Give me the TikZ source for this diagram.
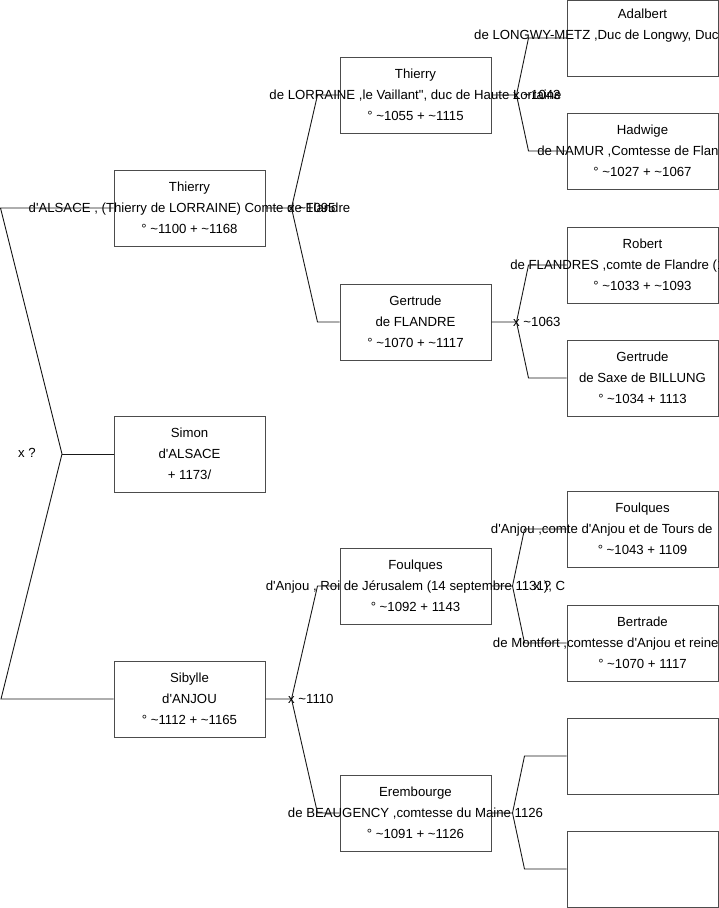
\documentclass[tikz,border=0pt]{standalone}
\usepackage{fontspec}
\setmainfont{Liberation Sans}[Ligatures=TeXOff]
\usepackage{tikz}

\newcommand{\abt}{\textasciitilde}
\newcommand{\wideline}[1]{\makebox[0pt]{#1}}
\newcommand{\cutoff}[2][76pt]{\makebox[0pt][r]{#2\hspace*{-#1}}}

\tikzset{
  person/.style={draw=black!70, line width=1pt, minimum width=151, minimum height=76,
    inner sep=0pt, align=center, font=\fontsize{13.2}{21}\selectfont},
  link/.style={black!90, line width=0.9pt},
  wed/.style={anchor=west, inner sep=0pt, font=\fontsize{13.2}{21}\selectfont}
}

\begin{document}
\begin{tikzpicture}[x=1pt, y=-1pt]
  \useasboundingbox (0,0) rectangle (719,908);

  % generation 1
  \node[person] (thierryA) at (189.5,208) {Thierry\\\wideline{d'ALSACE , (Thierry de LORRAINE) Comte de Flandre}\\° \abt1100 + \abt1168};
  \node[person] (simon) at (189.5,454) {Simon\\d'ALSACE\\+ 1173/};
  \node[person] (sibylle) at (189.5,699) {Sibylle\\d'ANJOU\\° \abt1112 + \abt1165};

  % generation 2
  \node[person] (thierryL) at (415.5,95) {Thierry\\\wideline{de LORRAINE ,le Vaillant", duc de Haute Lorraine}\\° \abt1055 + \abt1115};
  \node[person] (gertrudeF) at (415.5,322) {Gertrude\\de FLANDRE\\° \abt1070 + \abt1117};
  \node[person] (foulquesR) at (415.5,586) {Foulques\\\wideline{d'Anjou , Roi de Jérusalem (14 septembre 1131), C}\\° \abt1092 + 1143};
  \node[person] (erembourge) at (415.5,813) {Erembourge\\\wideline{de BEAUGENCY ,comtesse du Maine 1126}\\° \abt1091 + \abt1126};

  % generation 3
  \node[person] (adalbert) at (642.5,38) {Adalbert\\\cutoff{de LONGWY-METZ ,Duc de Longwy, Duc}\\\strut};
  \node[person] (hadwige) at (642.5,151) {Hadwige\\\cutoff{de NAMUR ,Comtesse de Flan}\\° \abt1027 + \abt1067};
  \node[person] (robert) at (642.5,265) {Robert\\\cutoff[82pt]{de FLANDRES ,comte de Flandre (1}\\° \abt1033 + \abt1093};
  \node[person] (gertrudeS) at (642.5,378) {Gertrude\\de Saxe de BILLUNG\\° \abt1034 + 1113};
  \node[person] (foulquesC) at (642.5,529) {Foulques\\\cutoff[70pt]{d'Anjou ,comte d'Anjou et de Tours de}\\° \abt1043 + 1109};
  \node[person] (bertrade) at (642.5,643) {Bertrade\\\cutoff{de Montfort ,comtesse d'Anjou et reine}\\° \abt1070 + 1117};
  \node[person] (emptyA) at (642.5,756) {};
  \node[person] (emptyB) at (642.5,869) {};

  % forks
  \coordinate (jS) at (62,454);
  \coordinate (jT) at ([xshift=26]thierryA.east);
  \coordinate (jB) at ([xshift=26]sibylle.east);
  \coordinate (jL) at ([xshift=25]thierryL.east);
  \coordinate (jG) at ([xshift=25]gertrudeF.east);
  \coordinate (jF) at ([xshift=21]foulquesR.east);
  \coordinate (jE) at ([xshift=21]erembourge.east);

  \draw[link] (thierryA.west) -- ++(-113,0) -- (jS) -- ++(-61,245) -- (sibylle.west);
  \draw[link] (jS) -- (simon.west);

  \draw[link] (thierryA.east) -- (jT) -- ([xshift=-22]thierryL.west) -- (thierryL.west);
  \draw[link] (jT) -- ([xshift=-22]gertrudeF.west) -- (gertrudeF.west);
  \draw[link] (sibylle.east) -- (jB) -- ([xshift=-22]foulquesR.west) -- (foulquesR.west);
  \draw[link] (jB) -- ([xshift=-22]erembourge.west) -- (erembourge.west);

  \draw[link] (thierryL.east) -- (jL) -- ([xshift=-38]adalbert.west) -- (adalbert.west);
  \draw[link] (jL) -- ([xshift=-38]hadwige.west) -- (hadwige.west);
  \draw[link] (gertrudeF.east) -- (jG) -- ([xshift=-38]robert.west) -- (robert.west);
  \draw[link] (jG) -- ([xshift=-38]gertrudeS.west) -- (gertrudeS.west);
  \draw[link] (foulquesR.east) -- (jF) -- ([xshift=-42]foulquesC.west) -- (foulquesC.west);
  \draw[link] (jF) -- ([xshift=-42]bertrade.west) -- (bertrade.west);
  \draw[link] (erembourge.east) -- (jE) -- ([xshift=-42]emptyA.west) -- (emptyA.west);
  \draw[link] (jE) -- ([xshift=-42]emptyB.west) -- (emptyB.west);

  % marriages
  \node[wed] (mS) at (18,453) {x ?};
  \node[wed, xshift=-3.5] (mT) at (jT) {x \abt1095};
  \node[wed, xshift=-3.5] (mB) at (jB) {x \abt1110};
  \node[wed, xshift=-3.5] (mL) at (jL) {x \abt1043};
  \node[wed, xshift=-3.5] (mG) at (jG) {x \abt1063};
  \node[wed, xshift=21] (mF) at (jF) {x ?};
\end{tikzpicture}
\end{document}
